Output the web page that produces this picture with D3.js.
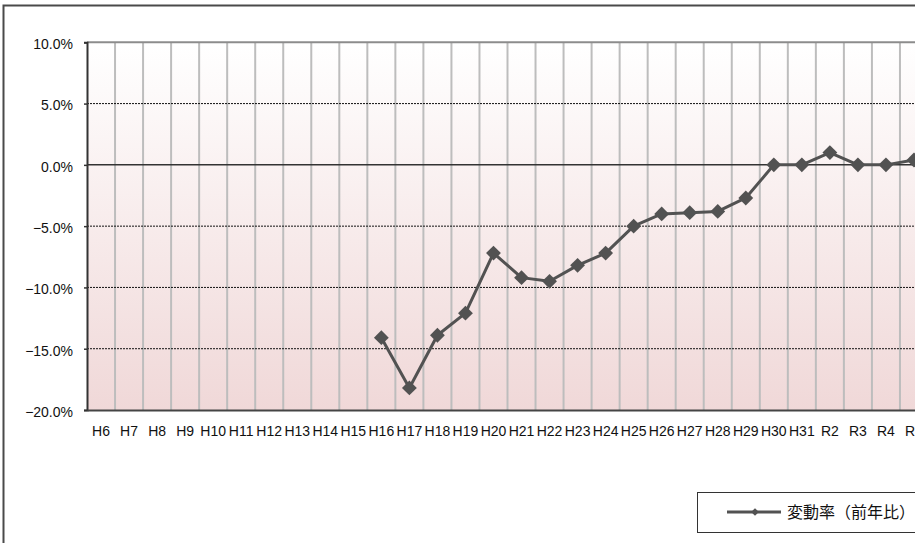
<!DOCTYPE html>
<html>
<head>
<meta charset="utf-8">
<script src="https://cdn.jsdelivr.net/npm/d3@7"></script>
<style>
  html, body { margin: 0; padding: 0; background: #ffffff; overflow: hidden; }
  svg { display: block; }
  text { font-family: "Liberation Sans", Arial, sans-serif; fill: #111; }
</style>
</head>
<body>
<svg id="chart" width="915" height="543"></svg>
<script>
// Year categories (Heisei / Reiwa)
const categories = ["H6","H7","H8","H9","H10","H11","H12","H13","H14","H15",
  "H16","H17","H18","H19","H20","H21","H22","H23","H24","H25",
  "H26","H27","H28","H29","H30","H31","R2","R3","R4","R5"];
// Year-on-year change rate (%); no data before H16
const changeRate = [null,null,null,null,null,null,null,null,null,null,
  -14.1,-18.2,-13.9,-12.1,-7.2,-9.2,-9.5,-8.2,-7.2,-5.0,
  -4.0,-3.9,-3.8,-2.7,0.0,0.0,1.0,0.0,0.0,0.4];
const yTicks = [-20, -15, -10, -5, 0, 5, 10];
const seriesName = "変動率（前年比）";

const svg = d3.select("#chart");

const plot = { left: 87, right: 928, top: 42.3, bottom: 410 };

const x = d3.scaleBand().domain(categories).range([plot.left, plot.right]).padding(0);
const y = d3.scaleLinear().domain([-20, 10]).range([plot.bottom, plot.top]);

// Outer chart frame
svg.append("rect")
  .attr("x", 3.5).attr("y", 5.5).attr("width", 1200).attr("height", 800)
  .attr("fill", "#ffffff").attr("stroke", "#4a4a4a").attr("stroke-width", 2);

// Plot background gradient
const defs = svg.append("defs");
const grad = defs.append("linearGradient").attr("id", "bg")
  .attr("x1", 0).attr("y1", 0).attr("x2", 0).attr("y2", 1);
grad.append("stop").attr("offset", "0%").attr("stop-color", "#ffffff");
grad.append("stop").attr("offset", "100%").attr("stop-color", "#f0d8d8");

svg.append("rect")
  .attr("x", plot.left).attr("y", plot.top)
  .attr("width", plot.right - plot.left).attr("height", plot.bottom - plot.top)
  .attr("fill", "url(#bg)");

// Vertical category gridlines
svg.append("g").selectAll("line")
  .data(categories.slice(1))
  .join("line")
  .attr("x1", d => x(d)).attr("x2", d => x(d))
  .attr("y1", plot.top).attr("y2", plot.bottom)
  .attr("stroke", "#bdbdbd").attr("stroke-width", 2);

// Horizontal gridlines: dotted, solid at zero
svg.append("g").selectAll("line")
  .data(yTicks.filter(v => v !== -20 && v !== 10))
  .join("line")
  .attr("x1", plot.left).attr("x2", plot.right)
  .attr("y1", d => y(d)).attr("y2", d => y(d))
  .attr("stroke", d => d === 0 ? "#333333" : "#111111")
  .attr("stroke-width", d => d === 0 ? 1.5 : 1)
  .attr("stroke-dasharray", d => d === 0 ? null : "2,1");

// Top border of plot
svg.append("line")
  .attr("x1", plot.left).attr("x2", plot.right)
  .attr("y1", y(10)).attr("y2", y(10))
  .attr("stroke", "#8c8c8c").attr("stroke-width", 2);

// Y axis
const yAxis = d3.axisLeft(y).tickValues(yTicks).tickSize(3).tickPadding(11)
  .tickFormat(d => (d < 0 ? "\u2212" : "") + Math.abs(d).toFixed(1) + "%");
const gy = svg.append("g").attr("transform", `translate(${plot.left},0)`).call(yAxis);
gy.attr("font-family", null);
gy.select(".domain").attr("stroke", "#333").attr("stroke-width", 2);
gy.selectAll(".tick line").attr("stroke", "#333").attr("stroke-width", 1.5);
gy.selectAll(".tick text").attr("dy", "0.45em").style("font-size", "14px").attr("fill", "#111");

// X axis
const xAxis = d3.axisBottom(x).tickSize(0).tickPadding(16);
const gx = svg.append("g").attr("transform", `translate(0,${plot.bottom})`).call(xAxis);
gx.attr("font-family", null);
gx.select(".domain").attr("stroke", "#444").attr("stroke-width", 2);
gx.selectAll(".tick text").style("font-size", "14px").attr("fill", "#111");

// Series line and diamond markers
const pts = categories.map((c, i) => ({ c, v: changeRate[i] })).filter(d => d.v !== null);
const line = d3.line().x(d => x(d.c) + x.bandwidth() / 2).y(d => y(d.v));
svg.append("path").datum(pts)
  .attr("d", line).attr("fill", "none")
  .attr("stroke", "#525252").attr("stroke-width", 3).attr("stroke-linejoin", "round");

const diamond = d3.symbol().type(d3.symbolSquare).size(110);
svg.append("g").selectAll("path")
  .data(pts)
  .join("path")
  .attr("d", diamond)
  .attr("transform", d => `translate(${x(d.c) + x.bandwidth() / 2},${y(d.v)}) rotate(45)`)
  .attr("fill", "#525252");

// Legend
const lg = svg.append("g");
lg.append("rect")
  .attr("x", 697.5).attr("y", 492.5).attr("width", 400).attr("height", 40)
  .attr("fill", "#ffffff").attr("stroke", "#333").attr("stroke-width", 1);
lg.append("line")
  .attr("x1", 727).attr("x2", 781).attr("y1", 512).attr("y2", 512)
  .attr("stroke", "#525252").attr("stroke-width", 3);
lg.append("path")
  .attr("d", d3.symbol().type(d3.symbolSquare).size(30)())
  .attr("transform", "translate(755,512) rotate(45)")
  .attr("fill", "#525252");
lg.append("text")
  .attr("x", 787).attr("y", 512).attr("dy", "0.36em")
  .style("font-family", "'Noto Sans CJK JP', sans-serif")
  .style("font-size", "16px")
  .text(seriesName);
</script>
</body>
</html>
